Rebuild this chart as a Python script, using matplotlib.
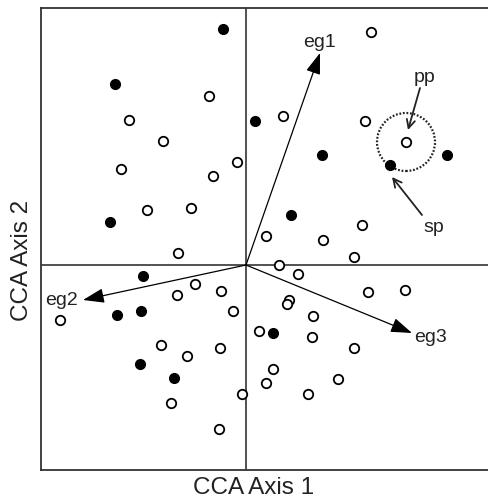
import matplotlib.pyplot as plt
from matplotlib.patches import Circle

plt.rcParams['font.family'] = ['Liberation Sans', 'DejaVu Sans']

# CCA site scores, open circles
open_x = [-0.37, -1.17, -0.83, -1.25, -0.09, -0.33, -0.99, -0.55, -0.68, 1.25,
          0.37, 1.19, 1.60, 1.16, 0.20, 0.77, -0.51, -0.69, -0.25, -0.13,
          -1.86, -0.85, -0.26, -0.59, -0.04, -0.75, -0.27, 1.08, 0.33, 0.52,
          1.22, 1.59, 0.43, 0.41, 0.67, 0.13, 0.66, 1.08, 0.27, 0.20, 0.92, 0.62]
open_y = [1.69, 1.45, 1.24, 0.96, 1.03, 0.89, 0.55, 0.57, 0.12, 2.33,
          1.49, 1.44, 1.23, 0.40, 0.29, 0.25, -0.19, -0.30, -0.26, -0.46,
          -0.55, -0.80, -0.83, -0.91, -1.29, -1.38, -1.64, 0.08, 0.00, -0.09,
          -0.27, -0.25, -0.35, -0.39, -0.51, -0.66, -0.72, -0.83, -1.04, -1.18, -1.14, -1.29]

# filled circles
fill_x = [-0.23, -1.31, -1.36, 0.09, 0.76, 2.01, 1.44, 0.45, -1.03, -1.29, -1.05, -1.06, -0.72, 0.27]
fill_y = [2.36, 1.81, 0.43, 1.44, 1.10, 1.10, 1.00, 0.50, -0.11, -0.50, -0.46, -0.99, -1.13, -0.68]

# environmental gradient vectors
env_names = ['eg1', 'eg2', 'eg3']
env_x = [0.74, -1.63, 1.66]
env_y = [2.12, -0.35, -0.68]

fig = plt.figure(figsize=(4.89, 4.99), dpi=100)
ax = fig.add_axes([41 / 489, 29 / 499, 448 / 489, 462 / 499])
ax.set_xlim(-2.05, 2.43)
ax.set_ylim(-2.05, 2.57)

ax.axhline(0, color='#222222', lw=1.1, zorder=1)
ax.axvline(0, color='#222222', lw=1.1, zorder=1)

ax.plot(open_x, open_y, 'o', ms=6.8, mfc='white', mec='black', mew=1.3, zorder=3)
ax.plot(fill_x, fill_y, 'o', ms=7.0, mfc='black', mec='black', mew=1.0, zorder=3)

for nm, ex, ey in zip(env_names, env_x, env_y):
    ax.annotate('', xy=(ex, ey), xytext=(0, 0),
                arrowprops=dict(arrowstyle='-|>,head_length=1.3,head_width=0.45',
                                mutation_scale=10, color='black', lw=0.9,
                                shrinkA=0, shrinkB=0), zorder=2)

ax.text(0.74, 2.18, 'eg1', ha='center', va='baseline', fontsize=14, color='#222222')
ax.text(-1.84, -0.40, 'eg2', ha='center', va='baseline', fontsize=14, color='#222222')
ax.text(1.85, -0.77, 'eg3', ha='center', va='baseline', fontsize=14, color='#222222')

# highlighted plot with pp and sp
ax.add_patch(Circle((1.60, 1.23), 0.29, fill=False, ls=(0, (0.8, 0.8)), lw=1.6,
                    ec='#222222', zorder=2))
ax.annotate('', xy=(1.62, 1.35), xytext=(1.74, 1.77),
            arrowprops=dict(arrowstyle='->,head_length=0.6,head_width=0.3',
                            mutation_scale=10, color='#222222', lw=1.3,
                            shrinkA=0, shrinkB=0))
ax.annotate('', xy=(1.46, 0.88), xytext=(1.76, 0.50),
            arrowprops=dict(arrowstyle='->,head_length=0.6,head_width=0.3',
                            mutation_scale=10, color='#222222', lw=1.3,
                            shrinkA=0, shrinkB=0))
ax.text(1.79, 1.83, 'pp', ha='center', va='baseline', fontsize=14, color='#222222')
ax.text(1.88, 0.33, 'sp', ha='center', va='baseline', fontsize=14, color='#222222')

for s in ['left', 'top', 'bottom']:
    ax.spines[s].set_color('#333333')
    ax.spines[s].set_linewidth(1.3)
ax.spines['right'].set_visible(False)
ax.set_xticks([])
ax.set_yticks([])

fig.text(254 / 489, 1 - 488 / 499, 'CCA Axis 1', ha='center', va='center', fontsize=17.5, color='#222222')
fig.text(22 / 489, 1 - 260 / 499, 'CCA Axis 2', ha='center', va='center', rotation=90,
         fontsize=17.5, color='#222222')

fig.savefig('out.png', dpi=100, facecolor='white')
